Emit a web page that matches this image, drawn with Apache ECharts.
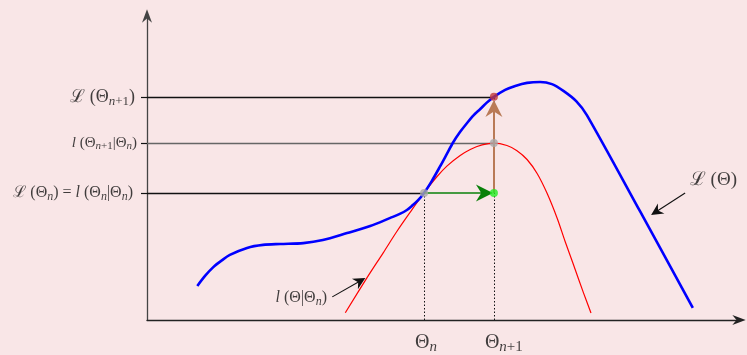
<!DOCTYPE html>
<html><head><meta charset="utf-8">
<script src="https://cdn.jsdelivr.net/npm/echarts@6/dist/echarts.min.js"></script>
<style>html,body{margin:0;padding:0;background:#f9e6e7}#c{width:747px;height:355px}</style>
</head><body><div id="c"></div>
<script>
// ---- data (abstract units) ----
const likelihood = [[0.85,1.12],[0.98,1.45],[1.12,1.74],[1.27,1.97],[1.40,2.14],[1.69,2.37],[1.96,2.47],[2.25,2.50],[2.64,2.53],[2.97,2.63],[3.38,2.86],[3.77,3.09],[4.11,3.36],[4.27,3.49],[4.39,3.62],[4.49,3.78],[4.58,3.94],[4.68,4.18],[4.81,4.57],[4.95,5.05],[5.07,5.48],[5.17,5.84],[5.29,6.19],[5.41,6.49],[5.52,6.74],[5.63,6.94],[5.74,7.15],[5.86,7.34],[6.05,7.57],[6.22,7.70],[6.42,7.80],[6.64,7.83],[6.84,7.76],[7.04,7.53],[7.25,7.20],[7.43,6.74],[8.33,3.57],[9.22,0.40]];
const lowerBound = [[3.35,0.24],[3.72,1.40],[3.99,2.21],[4.22,2.91],[4.44,3.53],[4.68,4.18],[4.90,4.72],[5.07,5.07],[5.29,5.41],[5.46,5.61],[5.66,5.76],[5.86,5.82],[6.08,5.74],[6.25,5.57],[6.42,5.28],[6.59,4.82],[6.76,4.16],[6.93,3.34],[7.06,2.60],[7.20,1.84],[7.37,0.91],[7.50,0.23]];
const thetaValues = [4.68, 5.86];
const thetaLabels = ['Θ_n', 'Θ_{n+1}'];
const levelValues = [7.34, 5.82, 4.18];
const levelTheta = [5.86, 5.86, 4.68];
const levelLabels = ['ℒ (Θ_{n+1})', 'l (Θ_{n+1}|Θ_n)', 'ℒ (Θ_n) = l (Θ_n|Θ_n)'];
const curveLabels = ['ℒ (Θ)', 'l (Θ|Θ_n)'];
const curveLabelPos = [[9.17,4.60],[3.04,0.72]];
const curveArrows = [[[9.09,4.18],[8.60,3.56]], [[3.13,0.76],[3.60,1.28]]];
const mStepArrow = [[4.68,4.18],[5.70,4.18]];
const eStepArrow = [[5.86,4.18],[5.86,6.96]];

// ---- rendering ----
const F = "'Liberation Serif','DejaVu Serif',serif";
const TXT = '#111';
function richFor(k, size){
  const o = {};
  const lh = Math.round(size*1.2);
  o['r'+k] = {fontFamily:F, fontSize:size, color:TXT, lineHeight:lh};
  o['i'+k] = {fontFamily:F, fontSize:size, color:TXT, fontStyle:'italic', lineHeight:lh};
  const ss = Math.round(size*0.74);
  const sl = Math.round(size*0.5);
  o['sr'+k] = {fontFamily:F, fontSize:ss, color:TXT, verticalAlign:'bottom', lineHeight:sl};
  o['si'+k] = {fontFamily:F, fontSize:ss, color:TXT, fontStyle:'italic', verticalAlign:'bottom', lineHeight:sl};
  return o;
}
function segs(str, pre, k){
  let out = '', cur = '', curS = null;
  for (const c of str){
    const s = (/[a-z]/.test(c) ? 'i' : 'r');
    if (s !== curS && cur){ out += '{'+pre+curS+k+'|'+cur+'}'; cur=''; }
    curS = s; cur += c;
  }
  if (cur) out += '{'+pre+curS+k+'|'+cur+'}';
  return out;
}
function tex(str, k){
  let out = '', buf = '', i = 0;
  while (i < str.length){
    const c = str[i];
    if (c === '_'){
      if (buf){ out += segs(buf, '', k); buf=''; }
      let sub;
      if (str[i+1] === '{'){ const j = str.indexOf('}', i); sub = str.slice(i+2, j); i = j+1; }
      else { sub = str[i+1]; i += 2; }
      out += segs(sub, 's', k);
      continue;
    }
    buf += c; i++;
  }
  if (buf) out += segs(buf, '', k);
  return out;
}
const rich = Object.assign({}, richFor('A',20), richFor('B',18), richFor('C',15), richFor('D',16), richFor('E',16), richFor('G',19));
const levelSize = ['B','C','D'];
const levelDist = [12, 10, 14];
const curveSize = ['G','E'];

const chart = echarts.init(document.getElementById('c'));
const pointStyles = [
  {value:[thetaValues[0], levelValues[2]], itemStyle:{color:'#a8a8a8'}},
  {value:[thetaValues[1], levelValues[1]], itemStyle:{color:'#a8a8a8'}},
  {value:[thetaValues[1], levelValues[2]], itemStyle:{color:'#22ee22'}},
  {value:[thetaValues[1], levelValues[0]], itemStyle:{color:'#c0393b'}}
];
const stealth = 'path://M0,0 L6,16 L0,11 L-6,16 Z';
const levelColors = ['#111','#666','#111'];

chart.setOption({
  backgroundColor:'#f9e6e7',
  animation:false,
  grid:{left:147, right:8, top:16, bottom:35, outerBoundsMode:'none'},
  xAxis:{type:'value', min:0, max:10, splitLine:{show:false}, axisTick:{show:false}, axisLabel:{show:false},
    axisLine:{show:true, symbol:['none', stealth], symbolSize:[10,16], lineStyle:{color:'#222', width:1.3}}},
  yAxis:{type:'value', min:0, max:10, splitLine:{show:false},
    axisTick:{show:true, customValues:levelValues, length:6, lineStyle:{color:'#111', width:1.2}},
    axisLabel:{show:false},
    axisLine:{show:true, symbol:['none', stealth], symbolSize:[10,16], lineStyle:{color:'#444', width:1.3}}},
  series:[
    {type:'lines', coordinateSystem:'cartesian2d', z:1, silent:true,
      data: levelValues.map((v,i)=>({coords:[[0,v],[levelTheta[i],v]], lineStyle:{color:levelColors[i], width:1.3, opacity:1}}))},
    {type:'lines', coordinateSystem:'cartesian2d', z:1, silent:true,
      lineStyle:{color:'#111', width:1, type:[1.5,2], opacity:1},
      data: thetaValues.map((t,i)=>({coords:[[t,0],[t, i===0?levelValues[2]:levelValues[0]]]}))},
    {type:'line', data:lowerBound, smooth:0.3, showSymbol:false, z:3, lineStyle:{color:'#ff0000', width:1.2}},
    {type:'line', data:likelihood, smooth:0.3, showSymbol:false, z:4, lineStyle:{color:'#0000ff', width:2.6}},
    {type:'lines', coordinateSystem:'cartesian2d', z:5, symbol:['none', stealth], symbolSize:[11,17],
      lineStyle:{color:'#0a800a', width:1.5, opacity:1}, data:[{coords:mStepArrow}]},
    {type:'lines', coordinateSystem:'cartesian2d', z:5, symbol:['none', stealth], symbolSize:[11,17],
      lineStyle:{color:'#b97a57', width:2, opacity:1}, data:[{coords:eStepArrow}]},
    {type:'scatter', z:6, symbolSize:8, data:pointStyles},
    {type:'lines', coordinateSystem:'cartesian2d', z:5, symbol:['none', stealth], symbolSize:[7,12],
      lineStyle:{color:'#111', width:1.1, opacity:1}, data:curveArrows.map(c=>({coords:c}))},
    {type:'scatter', z:7, symbolSize:0, silent:true,
      data: levelValues.map((v,i)=>({value:[0,v], label:{show:true, position:'left', distance:levelDist[i], rich, formatter: tex(levelLabels[i], levelSize[i])}}))
        .concat(thetaValues.map((t,i)=>({value:[t,0], label:{show:true, position:'bottom', align:'left', distance:11, offset:[-9,0], rich, formatter: tex(thetaLabels[i],'A')}})))
        .concat(curveLabels.map((s,i)=>({value:curveLabelPos[i], label:{show:true, position: i===0?'right':'left', distance:0, rich, formatter: tex(s, curveSize[i])}})))
    }
  ]
});
</script></body></html>
